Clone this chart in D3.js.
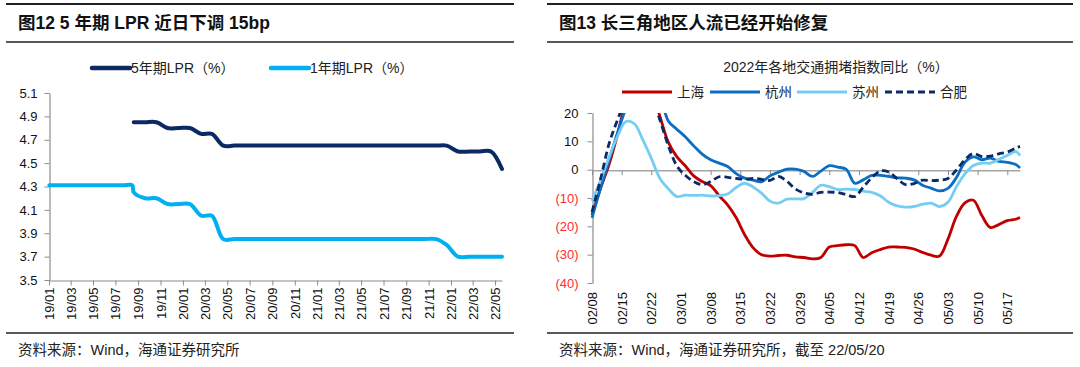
<!DOCTYPE html>
<html>
<head>
<meta charset="utf-8">
<script src="https://cdn.jsdelivr.net/npm/d3@7"></script>
<style>
    body { margin: 0; background: #fff; }
    svg { display: block; font-family: "Liberation Sans", Arial, "Noto Sans CJK SC", sans-serif; }
</style>
</head>
<body>
<svg id="chart" width="1080" height="367"></svg>
<script>
// ---- Figure 12: LPR ----
var lprDates = [
    "2019-01-02", "2019-02-20", "2019-03-20", "2019-04-22", "2019-05-20", "2019-06-20", "2019-07-22", "2019-08-16",
    "2019-08-20", "2019-09-20", "2019-10-21", "2019-11-20", "2019-12-20",
    "2020-01-20", "2020-02-20", "2020-03-20", "2020-04-20", "2020-05-20", "2020-06-22", "2020-07-20", "2020-08-20",
    "2020-09-21", "2020-10-20", "2020-11-20", "2020-12-21",
    "2021-01-20", "2021-02-20", "2021-03-22", "2021-04-20", "2021-05-20", "2021-06-21", "2021-07-20", "2021-08-20",
    "2021-09-22", "2021-10-20", "2021-11-22", "2021-12-20",
    "2022-01-20", "2022-02-21", "2022-03-21", "2022-04-20", "2022-05-20"
];
var lpr5y = [
    null, null, null, null, null, null, null, null,
    4.85, 4.85, 4.85, 4.80, 4.80,
    4.80, 4.75, 4.75, 4.65, 4.65, 4.65, 4.65, 4.65, 4.65, 4.65, 4.65, 4.65,
    4.65, 4.65, 4.65, 4.65, 4.65, 4.65, 4.65, 4.65, 4.65, 4.65, 4.65, 4.65,
    4.60, 4.60, 4.60, 4.60, 4.45
];
var lpr1y = [
    4.31, 4.31, 4.31, 4.31, 4.31, 4.31, 4.31, 4.31,
    4.25, 4.20, 4.20, 4.15, 4.15,
    4.15, 4.05, 4.05, 3.85, 3.85, 3.85, 3.85, 3.85, 3.85, 3.85, 3.85, 3.85,
    3.85, 3.85, 3.85, 3.85, 3.85, 3.85, 3.85, 3.85, 3.85, 3.85, 3.85, 3.80,
    3.70, 3.70, 3.70, 3.70, 3.70
];
var lprYTicks = [3.5, 3.7, 3.9, 4.1, 4.3, 4.5, 4.7, 4.9, 5.1];
var lprXTicks = [
    "2019-01-01", "2019-03-01", "2019-05-01", "2019-07-01", "2019-09-01", "2019-11-01",
    "2020-01-01", "2020-03-01", "2020-05-01", "2020-07-01", "2020-09-01", "2020-11-01",
    "2021-01-01", "2021-03-01", "2021-05-01", "2021-07-01", "2021-09-01", "2021-11-01",
    "2022-01-01", "2022-03-01", "2022-05-01"
];

// ---- Figure 13: traffic congestion index yoy ----
var trafficDates = [
    "2022-02-08", "2022-02-10", "2022-02-12", "2022-02-14", "2022-02-16", "2022-02-18", "2022-02-20", "2022-02-22",
    "2022-02-24", "2022-02-26", "2022-02-28", "2022-03-02", "2022-03-04", "2022-03-06", "2022-03-08", "2022-03-10",
    "2022-03-12", "2022-03-14", "2022-03-16", "2022-03-18", "2022-03-20", "2022-03-22", "2022-03-24", "2022-03-26",
    "2022-03-28", "2022-03-30", "2022-04-01", "2022-04-03", "2022-04-05", "2022-04-07", "2022-04-09", "2022-04-11",
    "2022-04-13", "2022-04-15", "2022-04-17", "2022-04-19", "2022-04-21", "2022-04-23", "2022-04-25", "2022-04-27",
    "2022-04-29", "2022-05-01", "2022-05-03", "2022-05-05", "2022-05-07", "2022-05-09", "2022-05-11", "2022-05-13",
    "2022-05-15", "2022-05-17", "2022-05-19", "2022-05-20"
];
var shanghai = [
    -16, -6.7, 1.7, 12.3, 24, 30.6, 32.4, 28, 19, 9.7, 4.6, 1.4, -2.2, -4.2, -5.6, -9.2,
    -12.4, -16.9, -22.9, -27.5, -30, -30.5, -30.3, -30.2, -30.8, -31, -31.5, -31, -27.3, -26.8, -26.5, -26.8,
    -31, -29.3, -28.2, -27.3, -27.3, -27.4, -28, -29.2, -30.2, -30.5, -24.5, -16.5, -11.7, -10.8, -16.2, -20.4,
    -19.4, -18, -17.5, -16.9
];
var hangzhou = [
    -17, -6.6, 3.2, 13, 21.7, 29.4, 33.7, 32.7, 26.8, 17.2, 14.3, 11.6, 8.4, 5.5, 3.5, 2.3,
    1.1, -1.4, -3, -3.7, -4.3, -2.2, -0.9, 0.2, 0.2, -0.6, -2.4, -0.5, 1.4, 0.9, 0.1, -4.8,
    -3.6, -2, -2, -2.4, -2.9, -3, -3.6, -5.5, -6.5, -7.5, -6.6, -2.8, 2.6, 4.5, 3.5, 4.1,
    2.9, 2.6, 1.8, 0.6
];
var suzhou = [
    -11, -3.8, 4.3, 11.7, 17, 16.2, 10.5, 4, -3, -6.7, -9.5, -9, -9.1, -9, -9.3, -9.2,
    -8.6, -6.3, -4.8, -6.1, -8.3, -11.1, -11.8, -10.4, -10.3, -10.2, -8.1, -5.5, -6, -7, -6.9, -7,
    -7.6, -8, -9.2, -11.5, -12.8, -13.2, -13, -12.2, -11.8, -13, -11.5, -6, -1.5, 1.5, 2.3, 2.3,
    3.6, 5, 6.4, 5
];
var hefei = [
    -15, -3.5, 9, 17.5, 25, 31, 32, 26, 17.7, 8.5, 1.4, -2, -4.2, -5.3, -4.2, -2.5,
    -2.7, -3.1, -3.4, -3.1, -3.4, -3.8, -2.4, -4.1, -6.8, -8.2, -8.7, -8, -7.9, -8.1, -8.8, -9.5,
    -6.2, -2.9, -0.5, -0.8, -3.2, -5.3, -4.9, -3.7, -3.9, -3.7, -3.1, -0.1, 3.5, 5.7, 4.6, 4.8,
    5.6, 6.2, 7.6, 8.2
];
var trafficYTicks = [-40, -30, -20, -10, 0, 10, 20];
var trafficXTicks = ["02/08", "02/15", "02/22", "03/01", "03/08", "03/15", "03/22", "03/29",
    "04/05", "04/12", "04/19", "04/26", "05/03", "05/10", "05/17"];

var parseDay = d3.timeParse("%Y-%m-%d");
var parseMD = d3.timeParse("%Y/%m/%d");
var svg = d3.select("#chart");
var cjk = "'Liberation Sans', Arial, 'Noto Sans CJK SC', sans-serif";

// Frame: rules, titles and source notes
function drawFrame(x0, x1, title, note) {
    svg.append("line").attr("x1", x0).attr("x2", x1).attr("y1", 4).attr("y2", 4)
        .attr("stroke", "#222").attr("stroke-width", 2);
    svg.append("line").attr("x1", x0).attr("x2", x1).attr("y1", 42).attr("y2", 42)
        .attr("stroke", "#222").attr("stroke-width", 1.5);
    svg.append("line").attr("x1", x0).attr("x2", x1).attr("y1", 333).attr("y2", 333)
        .attr("stroke", "#222").attr("stroke-width", 1.5);
    svg.append("text").attr("x", x0 + 12).attr("y", 29)
        .style("font-size", "17.5px").style("font-weight", "bold").style("fill", "#111")
        .text(title);
    svg.append("text").attr("x", x0 + 12).attr("y", 355)
        .style("font-size", "14.5px").style("fill", "#222")
        .text(note);
}
drawFrame(6, 514, "图12 5 年期 LPR 近日下调 15bp", "资料来源：Wind，海通证券研究所");
drawFrame(547, 1073, "图13 长三角地区人流已经开始修复", "资料来源：Wind，海通证券研究所，截至 22/05/20");

function styleAxis(g) {
    g.select(".domain").attr("stroke", "#8c8c8c").attr("stroke-width", 1.2);
    g.selectAll(".tick line").attr("stroke", "#8c8c8c");
    g.selectAll("text").style("font-size", "13px").style("fill", "#111").style("font-family", cjk);
}

// ---------- LPR chart ----------
var lprData = lprDates.map(function(d, i) {
    return {date: parseDay(d), y5: lpr5y[i], y1: lpr1y[i]};
});
var x1 = d3.scaleTime().domain([parseDay("2019-01-01"), parseDay("2022-05-20")]).range([49, 502]);
var y1 = d3.scaleLinear().domain([3.5, 5.1]).range([280, 93]);

var yAxis1 = svg.append("g")
    .attr("transform", "translate(49.5,0)")
    .call(d3.axisLeft(y1).tickValues(lprYTicks).tickFormat(d3.format(".1f")).tickSize(5).tickSizeOuter(0).tickPadding(7));
styleAxis(yAxis1);

var xAxis1 = svg.append("g")
    .attr("transform", "translate(0,280.5)")
    .call(d3.axisBottom(x1).tickValues(lprXTicks.map(parseDay)).tickFormat(d3.timeFormat("%y/%m")).tickSize(5).tickSizeOuter(0));
styleAxis(xAxis1);
xAxis1.selectAll("text")
    .attr("transform", "rotate(-90)")
    .attr("x", -7).attr("y", 0).attr("dy", "0.35em")
    .style("text-anchor", "end");

var line5 = d3.line()
    .x(function(d) { return x1(d.date); })
    .y(function(d) { return y1(d.y5); })
    .curve(d3.curveCatmullRom.alpha(0.5));
var line1 = d3.line()
    .x(function(d) { return x1(d.date); })
    .y(function(d) { return y1(d.y1); })
    .curve(d3.curveCatmullRom.alpha(0.5));

svg.append("path").datum(lprData.filter(function(d) { return d.y5 != null; }))
    .attr("d", line5).attr("fill", "none").attr("stroke", "#0b2a63")
    .attr("stroke-width", 4).attr("stroke-linecap", "round").attr("stroke-linejoin", "round");
svg.append("path").datum(lprData)
    .attr("d", line1).attr("fill", "none").attr("stroke", "#00b0f0")
    .attr("stroke-width", 4).attr("stroke-linecap", "round").attr("stroke-linejoin", "round");

// legend
var lprLegend = [
    {name: "5年期LPR（%）", color: "#0b2a63", x: 92},
    {name: "1年期LPR（%）", color: "#00b0f0", x: 271}
];
lprLegend.forEach(function(d) {
    svg.append("line").attr("x1", d.x).attr("x2", d.x + 38).attr("y1", 68).attr("y2", 68)
        .attr("stroke", d.color).attr("stroke-width", 4.5).attr("stroke-linecap", "round");
    svg.append("text").attr("x", d.x + 39).attr("y", 68).attr("dy", "0.35em")
        .style("font-size", "14px").style("fill", "#222").text(d.name);
});

// ---------- Traffic chart ----------
var series = [
    {name: "上海", values: shanghai, color: "#c00000", dash: null},
    {name: "杭州", values: hangzhou, color: "#0a6fc2", dash: null},
    {name: "苏州", values: suzhou, color: "#76cdf3", dash: null},
    {name: "合肥", values: hefei, color: "#0d2a66", dash: "7,4"}
];
var tDates = trafficDates.map(parseDay);
var x2 = d3.scaleTime().domain([parseDay("2022-02-08"), parseDay("2022-05-20")]).range([592, 1020]);
var y2 = d3.scaleLinear().domain([-40, 20]).range([283, 113]);

svg.append("text").attr("x", 836).attr("y", 67).attr("dy", "0.35em")
    .style("text-anchor", "middle").style("font-size", "14px").style("fill", "#222")
    .text("2022年各地交通拥堵指数同比（%）");

var yAxis2 = svg.append("g")
    .attr("transform", "translate(592.5,0)")
    .call(d3.axisLeft(y2).tickValues(trafficYTicks)
        .tickFormat(function(d) { return d < 0 ? "(" + (-d) + ")" : d; })
        .tickSize(5).tickSizeOuter(0).tickPadding(9));
styleAxis(yAxis2);
yAxis2.selectAll("text").style("fill", function(d) { return d < 0 ? "#ff2b2b" : "#111"; });

// zero line with week ticks
var zeroAxis = svg.append("g")
    .attr("transform", "translate(0," + (y2(0) + 0.5) + ")")
    .call(d3.axisBottom(x2).tickValues(trafficXTicks.map(function(t) { return parseMD("2022/" + t); }))
        .tickFormat("").tickSize(5).tickSizeOuter(0));
styleAxis(zeroAxis);
zeroAxis.select(".domain").attr("stroke", "#a6a6a6").attr("stroke-width", 1.5);

// date labels along the bottom
var labelAxis = svg.append("g")
    .attr("transform", "translate(0,283)")
    .call(d3.axisBottom(x2).tickValues(trafficXTicks.map(function(t) { return parseMD("2022/" + t); }))
        .tickFormat(d3.timeFormat("%m/%d")).tickSize(0));
labelAxis.select(".domain").remove();
styleAxis(labelAxis);
labelAxis.selectAll("text")
    .attr("transform", "rotate(-90)")
    .attr("x", -9).attr("y", 0).attr("dy", "0.35em")
    .style("text-anchor", "end");

svg.append("clipPath").attr("id", "plot2")
    .append("rect").attr("x", 590).attr("y", 113).attr("width", 434).attr("height", 171);

var line2 = d3.line()
    .x(function(d, i) { return x2(tDates[i]); })
    .y(function(d) { return y2(d); })
    .curve(d3.curveCatmullRom.alpha(0.5));

svg.append("g").attr("clip-path", "url(#plot2)")
    .selectAll("path")
    .data(series)
    .enter().append("path")
    .attr("d", function(d) { return line2(d.values); })
    .attr("fill", "none")
    .attr("stroke", function(d) { return d.color; })
    .attr("stroke-width", 2.8)
    .attr("stroke-dasharray", function(d) { return d.dash; })
    .attr("stroke-linejoin", "round");

// legend
var legendX = [622, 710, 797, 885];
series.forEach(function(d, i) {
    svg.append("line").attr("x1", legendX[i]).attr("x2", legendX[i] + 50).attr("y1", 92).attr("y2", 92)
        .attr("stroke", d.color).attr("stroke-width", 3)
        .attr("stroke-dasharray", d.dash);
    svg.append("text").attr("x", legendX[i] + 55).attr("y", 92).attr("dy", "0.35em")
        .style("font-size", "13.5px").style("fill", "#222").text(d.name);
});
</script>
</body>
</html>
